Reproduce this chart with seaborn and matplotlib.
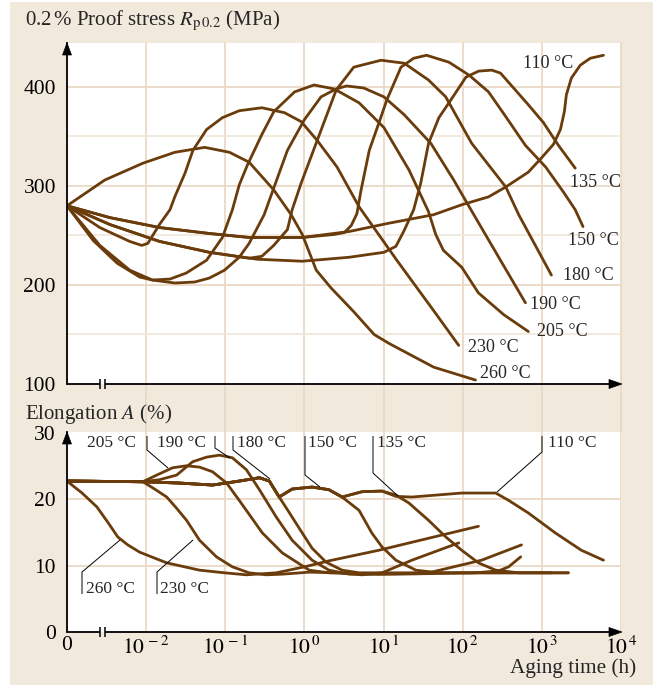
import numpy as np
import pandas as pd
import matplotlib
matplotlib.use("Agg")
import matplotlib.pyplot as plt
import seaborn as sns
from matplotlib.patches import Rectangle, Polygon
from matplotlib.lines import Line2D
from matplotlib.ticker import NullLocator

# ---------------- data: aging time (h) and property value ----------------
TEMPS = [260, 230, 205, 190, 180, 150, 135, 110]

# 0.2 % proof stress (MPa)
rp_260_t = [0, 0.003, 0.0091, 0.023, 0.055, 0.113, 0.20, 0.41, 0.68, 0.94, 1.41, 2.17, 4.2, 7.6, 11.7, 43, 145]
rp_260_v = [280, 306, 323, 334, 339, 334, 324, 296, 271, 251, 215, 197, 173, 150, 141, 117, 104]
rp_230_t = [0, 0.0026, 0.0062, 0.0088, 0.0105, 0.0147, 0.020, 0.023, 0.031, 0.039, 0.058, 0.092, 0.150, 0.29,
            0.56, 0.91, 1.45, 2.59, 4.9, 14.7, 43, 89]
rp_230_v = [280, 258, 244, 240, 242, 261, 276, 289, 313, 336, 357, 369, 376, 379, 374, 365, 346, 319, 279, 225, 174, 139]
rp_205_t = [0, 0.00214, 0.0043, 0.0083, 0.012, 0.020, 0.032, 0.058, 0.092, 0.123, 0.150, 0.19, 0.29, 0.41, 0.75,
            1.32, 2.38, 4.9, 10.1, 21, 37, 45.6, 57, 97, 158, 330, 675]
rp_205_v = [280, 245, 222, 208, 205, 206, 212, 225, 248, 276, 301, 321, 352, 375, 395, 402, 398, 384, 359, 316, 274,
            251, 235, 218, 192, 170, 153]
rp_190_t = [0, 0.0026, 0.0062, 0.012, 0.023, 0.041, 0.063, 0.098, 0.150, 0.20, 0.31, 0.41, 0.61, 1.0, 1.62, 2.52,
            3.4, 5.6, 10.1, 18.2, 39.6, 77, 127, 285, 620]
rp_190_v = [280, 240, 215, 205, 202, 203, 207, 215, 228, 242, 271, 298, 336, 367, 390, 398, 401, 399, 390, 372, 343,
            306, 276, 228, 182]
rp_180_t = [0, 0.0035, 0.0148, 0.063, 0.20, 0.29, 0.41, 0.61, 0.70, 0.91, 1.45, 2.52, 4.2, 9.3, 18.2, 37, 61, 130,
            350, 510, 1320]
rp_180_v = [280, 261, 244, 233, 227, 229, 240, 256, 276, 303, 346, 397, 420, 427, 424, 407, 390, 343, 299, 271, 210]
rp_150_t = [0, 0.0035, 0.0148, 0.063, 0.20, 0.94, 2.37, 3.2, 3.9, 4.6, 5.2, 6.6, 9.3, 11.0, 16.6, 24, 35, 67, 120,
            212, 350, 620, 1120, 1870, 2640, 3310]
rp_150_v = [280, 268, 258, 252, 248, 248, 251, 253, 260, 272, 296, 336, 370, 387, 420, 429, 432, 425, 412, 395, 370,
            341, 319, 294, 276, 259]
rp_135_t = [0, 0.0035, 0.0148, 0.063, 0.255, 0.94, 3.67, 10.1, 14.3, 18.2, 24, 29.5, 37, 50, 67, 110, 159, 233, 300,
            439, 675, 1047, 1620, 2640]
rp_135_v = [280, 261, 244, 233, 226, 224, 228, 233, 239, 255, 276, 303, 343, 369, 384, 410, 416, 417, 414, 399, 382,
            364, 341, 318]
rp_110_t = [0, 0.0035, 0.0148, 0.063, 0.20, 0.94, 3.67, 11.0, 43, 97, 212, 350, 675, 980, 1400, 1715, 1925, 2040,
            2360, 3060, 4090, 6000]
rp_110_v = [280, 268, 258, 252, 248, 248, 254, 262, 271, 281, 289, 299, 314, 328, 342, 357, 375, 392, 409, 422, 429,
            432]

# elongation (%)
el_260_t = [0, 0.00155, 0.00239, 0.00328, 0.00438, 0.00586, 0.0083, 0.0182, 0.0473, 0.098, 0.185, 0.44, 1.0, 2.04,
            8.75, 37, 158]
el_260_v = [22.7, 20.9, 18.8, 16.5, 14.3, 13.1, 12.0, 10.4, 9.3, 8.9, 8.6, 8.9, 9.8, 10.7, 12.3, 14.1, 15.9]
el_230_t = [0, 0.0091, 0.0128, 0.0182, 0.0243, 0.0324, 0.0473, 0.0774, 0.123, 0.20, 0.33, 0.525, 1.15, 2.74, 5.35,
            9.55, 22.8, 89]
el_230_v = [22.7, 22.6, 21.5, 20.3, 18.6, 16.8, 13.8, 11.3, 9.8, 8.9, 8.6, 8.7, 9.0, 8.9, 8.6, 8.9, 10.8, 13.4]
el_205_t = [0, 0.0091, 0.0136, 0.0216, 0.0324, 0.0473, 0.069, 0.104, 0.150, 0.294, 0.525, 1.15, 2.04, 8.75, 37, 173,
            553]
el_205_v = [22.7, 22.6, 23.6, 24.7, 25.0, 24.8, 24.1, 22.4, 19.8, 14.9, 11.9, 9.3, 8.9, 8.7, 8.9, 10.8, 13.1]
el_190_t = [0, 0.0091, 0.0147, 0.0243, 0.0386, 0.058, 0.0845, 0.123, 0.185, 0.27, 0.44, 0.70, 1.25, 2.04, 3.67, 15.6,
            145, 285, 380, 540]
el_190_v = [22.7, 22.6, 22.9, 23.6, 25.6, 26.3, 26.6, 26.2, 24.4, 21.4, 17.3, 13.8, 10.8, 9.3, 8.7, 8.7, 8.9, 9.2,
            9.8, 11.3]
el_180_t = [0, 0.0091, 0.0265, 0.069, 0.150, 0.27, 0.36, 0.48, 0.64, 0.86, 1.25, 1.88, 2.99, 4.9, 67, 1320]
el_180_v = [22.7, 22.6, 22.4, 22.1, 22.7, 23.2, 22.7, 20.3, 18.0, 15.6, 12.6, 10.5, 9.3, 8.9, 8.9, 8.9]
el_150_t = [0, 0.0091, 0.0265, 0.069, 0.150, 0.27, 0.36, 0.48, 0.70, 1.25, 2.04, 2.99, 4.9, 7.1, 9.55, 14.3, 25.6,
            50, 2160]
el_150_v = [22.7, 22.6, 22.4, 22.1, 22.7, 23.2, 22.7, 20.3, 21.5, 21.8, 21.4, 20.3, 18.3, 14.9, 12.8, 10.8, 9.3, 8.9,
            8.9]
el_135_t = [0, 0.0091, 0.0265, 0.069, 0.150, 0.27, 0.36, 0.48, 0.70, 1.25, 2.04, 2.99, 5.35, 9.55, 14.3, 20.9, 37,
            61, 97, 158, 261, 510, 2160]
el_135_v = [22.7, 22.6, 22.4, 22.1, 22.7, 23.2, 22.7, 20.3, 21.5, 21.8, 21.4, 20.3, 21.1, 21.2, 20.6, 19.4, 16.8,
            14.3, 12.3, 10.4, 9.3, 8.9, 8.9]
el_110_t = [0, 0.0091, 0.0265, 0.069, 0.150, 0.27, 0.36, 0.48, 0.70, 1.25, 2.04, 2.99, 5.35, 9.55, 14.3, 22.8, 97,
            261, 380, 675, 1480, 3150, 6000]
el_110_v = [22.7, 22.6, 22.4, 22.1, 22.7, 23.2, 22.7, 20.3, 21.5, 21.8, 21.4, 20.3, 21.1, 21.2, 20.4, 20.3, 20.9,
            20.9, 19.8, 17.9, 14.9, 12.3, 10.8]

X_TICKS = [1e-3, 1e-2, 1e-1, 1e0, 1e1, 1e2, 1e3, 1e4]
X_TICK_LABELS = ["0", r"$10^{\,-2}$", r"$10^{\,-1}$", r"$10^{\,0}$", r"$10^{\,1}$",
                 r"$10^{\,2}$", r"$10^{\,3}$", r"$10^{\,4}$"]
RP_TICKS = [100, 200, 300, 400]
EL_TICKS = [0, 10, 20, 30]

# ---------------- styling ----------------
BEIGE = "#f2e9dd"
GRID = "#e9d9c6"
GRID_LIGHT = "#f2e8dc"
BROWN = "#6b3c0b"
T_ZERO = 1e-3   # position of the "0" origin on the log time axis

sns.set_theme(style="white")
plt.rcParams["font.family"] = ["Liberation Serif", "DejaVu Serif"]
plt.rcParams["mathtext.fontset"] = "stix"

W, H = 657, 685
fig = plt.figure(figsize=(W / 100, H / 100), dpi=100, facecolor="white")


def fx(x):
    return x / W


def fy(y):
    return 1 - y / H


fig.add_artist(Rectangle((fx(10), 0), fx(653) - fx(10), fy(2), transform=fig.transFigure,
                         facecolor=BEIGE, edgecolor="none", zorder=-5))

ax1 = fig.add_axes([fx(67), fy(384), fx(621) - fx(67), (384 - 43) / H])
ax2 = fig.add_axes([fx(67), fy(632), fx(621) - fx(67), (632 - 432) / H])


def long_frame(prefix):
    parts = []
    for temp in TEMPS:
        t = np.asarray(globals()[f"{prefix}_{temp}_t"], dtype=float)
        v = np.asarray(globals()[f"{prefix}_{temp}_v"], dtype=float)
        parts.append(pd.DataFrame({"time": np.where(t == 0, T_ZERO, t), "value": v, "temp": temp}))
    return pd.concat(parts, ignore_index=True)


df_rp = long_frame("rp")
df_el = long_frame("el")

for ax, df, ylim in [(ax1, df_rp, (100, 444.4)), (ax2, df_el, (0, 30.08))]:
    ax.set_facecolor("white")
    ax.set_xscale("log")
    ax.set_xlim(T_ZERO, 1e4)
    ax.set_ylim(*ylim)
    sns.lineplot(data=df, x="time", y="value", units="temp", estimator=None, sort=False,
                 color=BROWN, lw=2.0, ax=ax, legend=False, zorder=3)
    ax.set_xlabel("")
    ax.set_ylabel("")
    for s in ["top", "right", "bottom"]:
        ax.spines[s].set_visible(False)
    ax.spines["left"].set_color("black")
    ax.spines["left"].set_linewidth(1.3)
    ax.spines["left"].set_zorder(5)
    ax.xaxis.set_minor_locator(NullLocator())
    ax.yaxis.set_minor_locator(NullLocator())
    ax.tick_params(axis="both", length=0, labelsize=15.5, colors="black")

# grid: decades (extending through the band between the panels) and value lines
gap = (432 - 384) / (384 - 43)
for xv in X_TICKS[1:]:
    ax1.axvline(xv, ymin=-gap, ymax=1, color=GRID, lw=1.3, zorder=1, clip_on=False)
    ax2.axvline(xv, color=GRID, lw=1.3, zorder=1)
for yv in [200, 300, 400]:
    ax1.axhline(yv, color=GRID, lw=1.3, zorder=1)
for yv in [150, 250, 350]:
    ax1.axhline(yv, color=GRID_LIGHT, lw=1.3, zorder=1)
for yv in [10, 20]:
    ax2.axhline(yv, color=GRID, lw=1.3, zorder=1)

ax1.set_xticks([])
ax1.set_yticks(RP_TICKS)
ax1.set_yticklabels([str(v) for v in RP_TICKS])
ax1.tick_params(axis="y", pad=8)
ax2.set_xticks(X_TICKS)
ax2.set_xticklabels(X_TICK_LABELS)
ax2.tick_params(axis="x", pad=3)
ax2.set_yticks(EL_TICKS)
ax2.set_yticklabels([str(v) for v in EL_TICKS])
ax2.tick_params(axis="y", pad=8)


# axis arrows and the broken time axis
def fline(xs, ys, lw=1.3, color="black"):
    fig.add_artist(Line2D([fx(x) for x in xs], [fy(y) for y in ys], transform=fig.transFigure,
                          color=color, lw=lw, solid_capstyle="butt", zorder=10))


def fpoly(pts):
    fig.add_artist(Polygon([(fx(x), fy(y)) for x, y in pts], closed=True, transform=fig.transFigure,
                           facecolor="black", edgecolor="black", lw=0.5, zorder=11))


for y_axis, y_top in [(384, 43), (632, 432)]:
    fline([67, 100], [y_axis, y_axis])
    fline([105, 611], [y_axis, y_axis])
    fline([100, 100], [y_axis - 5, y_axis + 5], lw=1.1)
    fline([105, 105], [y_axis - 5, y_axis + 5], lw=1.1)
    fpoly([(622, y_axis), (609, y_axis - 4.5), (609, y_axis + 4.5)])
    fpoly([(67, y_top), (62.5, y_top + 12), (71.5, y_top + 12)])

# axis titles
fig.text(fx(25), fy(21), r"0.2$\,$% Proof stress $R_{\mathrm{p\,0.2}}$ (MPa)", fontsize=15,
         ha="left", va="center")
fig.text(fx(25), fy(414), r"Elongation $A$ (%)", fontsize=15, ha="left", va="center")
fig.text(fx(636), fy(668), "Aging time (h)", fontsize=15.3, ha="right", va="center")

# curve labels, proof stress panel
rp_labels = {110: (523, 64), 135: (570, 183), 150: (568, 241), 180: (563, 276),
             190: (530, 304), 205: (537, 332), 230: (468, 347), 260: (480, 374)}
for temp, (x, y) in rp_labels.items():
    fig.text(fx(x), fy(y), f"{temp} °C", fontsize=13, ha="left", va="center", zorder=12)

# curve labels with leader lines, elongation panel
el_labels = {205: (87, 443), 190: (157, 443), 180: (237, 443), 150: (308, 443),
             135: (377, 443), 110: (548, 443), 260: (86, 589), 230: (160, 589)}
for temp, (x, y) in el_labels.items():
    fig.text(fx(x), fy(y), f"{temp} °C", fontsize=12.5, ha="left", va="center", zorder=12)

leaders = [
    ([147, 147, 168], [436, 450, 468]),
    ([215, 215, 230], [436, 448, 458]),
    ([233, 233, 270], [436, 450, 479]),
    ([305, 305, 320], [436, 475, 487]),
    ([373, 373, 398], [436, 473, 496]),
    ([542, 542, 497], [436, 452, 492]),
    ([82, 82, 120], [594, 572, 540]),
    ([157, 157, 193], [594, 572, 540]),
]
for xs, ys in leaders:
    fline(xs, ys, lw=0.7)

fig.savefig("out.png", dpi=100, facecolor="white")
